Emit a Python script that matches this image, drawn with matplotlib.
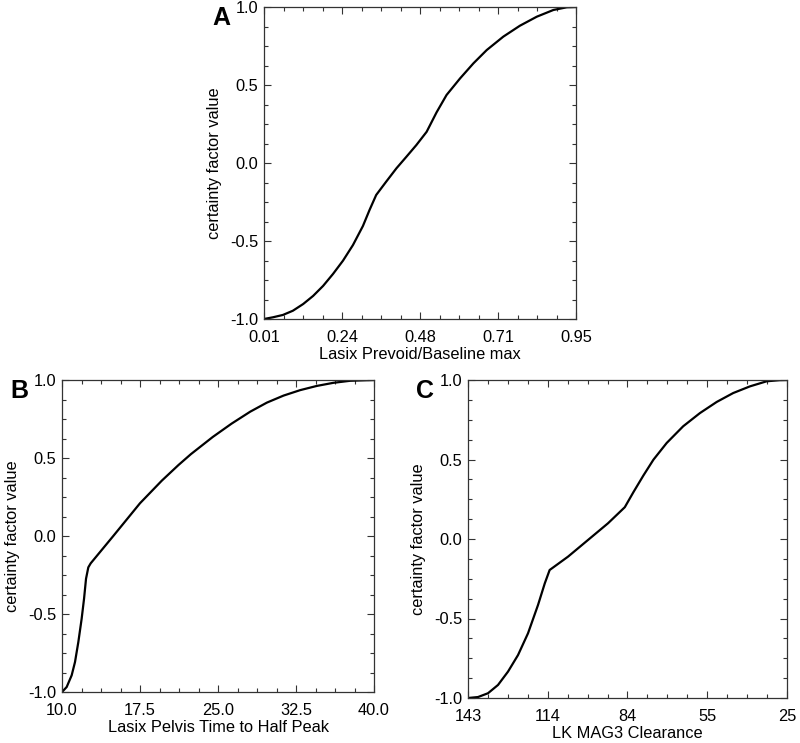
import numpy as np
import matplotlib
matplotlib.use('Agg')
from matplotlib import pyplot as plt
from matplotlib.ticker import AutoMinorLocator

plt.rcParams['font.family'] = ['Liberation Sans', 'DejaVu Sans']

# panel A: Lasix Prevoid/Baseline max
a_x = [0.01, 0.037, 0.067, 0.097, 0.128, 0.158, 0.188, 0.218, 0.248, 0.278, 0.308, 0.328,
       0.348, 0.378, 0.409, 0.439, 0.469, 0.50, 0.530, 0.560, 0.601, 0.641, 0.681, 0.731,
       0.781, 0.832, 0.882, 0.922, 0.95]
a_y = [-1.0, -0.989, -0.974, -0.947, -0.904, -0.852, -0.788, -0.711, -0.626, -0.526, -0.404, -0.301,
       -0.205, -0.120, -0.034, 0.040, 0.115, 0.200, 0.325, 0.436, 0.543, 0.639, 0.724, 0.810,
       0.880, 0.938, 0.981, 0.998, 1.0]
a_ticks = [0.01, 0.245, 0.48, 0.715, 0.95]
a_labels = ['0.01', '0.24', '0.48', '0.71', '0.95']

# panel B: Lasix Pelvis Time to Half Peak
b_x = [10.0, 10.45, 10.93, 11.25, 11.57, 11.89, 12.12, 12.31, 12.53, 12.76, 14.93, 17.5,
       19.6, 21.2, 22.4, 24.5, 26.3, 28.1, 29.7, 31.3, 32.9, 34.5, 36.1, 37.7, 40.0]
b_y = [-1.0, -0.968, -0.893, -0.808, -0.680, -0.530, -0.402, -0.274, -0.201, -0.175, 0.0, 0.21,
       0.355, 0.455, 0.525, 0.635, 0.72, 0.797, 0.855, 0.90, 0.935, 0.962, 0.982, 0.995, 1.0]
b_ticks = [10.0, 17.5, 25.0, 32.5, 40.0]
b_labels = ['10.0', '17.5', '25.0', '32.5', '40.0']

# panel C: LK MAG3 Clearance
c_x = [143, 139.3, 135.6, 131.9, 128.2, 124.5, 120.8, 117.1, 114.6, 112.8, 106.0, 98.6,
       91.2, 85.0, 81.8, 78.1, 74.4, 69.5, 63.4, 57.2, 51.0, 44.9, 38.7, 32.5, 27.6, 25]
c_y = [-1.0, -0.994, -0.970, -0.918, -0.834, -0.730, -0.593, -0.415, -0.279, -0.195, -0.111, -0.006,
       0.099, 0.200, 0.295, 0.400, 0.499, 0.604, 0.709, 0.792, 0.862, 0.918, 0.960, 0.992, 0.999, 1.0]
c_ticks = [143, 113.5, 84, 54.5, 25]
c_labels = ['143', '114', '84', '55', '25']

y_ticks = [-1.0, -0.5, 0.0, 0.5, 1.0]
y_labels = ['-1.0', '-0.5', '0.0', '0.5', '1.0']

W, H = 800, 743
fig = plt.figure(figsize=(8, 7.43), dpi=100)


def panel(px, letter, x, y, ticks, labels, xlabel, xlim):
    l, t, r, b = px
    ax = fig.add_axes([l / W, 1 - b / H, (r - l) / W, (b - t) / H])
    ax.plot(x, y, color='black', lw=1.6, solid_joinstyle='round')
    ax.set_xlim(*xlim)
    ax.set_ylim(-1.0, 1.0)
    ax.set_xticks(ticks)
    ax.set_xticklabels(labels)
    ax.set_yticks(y_ticks)
    ax.set_yticklabels(y_labels)
    ax.xaxis.set_minor_locator(AutoMinorLocator(4))
    ax.yaxis.set_minor_locator(AutoMinorLocator(4))
    ax.tick_params(which='both', direction='in', top=True, right=True, width=0.8,
                   color='#333333', labelsize=11.8)
    ax.tick_params(which='major', length=5)
    ax.tick_params(which='minor', length=3)
    ax.tick_params(axis='x', pad=8)
    ax.tick_params(axis='y', pad=4)
    for s in ax.spines.values():
        s.set_linewidth(0.9)
        s.set_color('#333333')
    ax.set_xlabel(xlabel, fontsize=11.8, labelpad=1.5)
    ax.set_ylabel('certainty factor value', fontsize=11.8, labelpad=6)
    fig.text((l - 43) / W, 1 - (t + 11) / H, letter, fontsize=18, fontweight='bold',
             ha='center', va='center')
    return ax


panel((264, 7, 576, 319), 'A', a_x, a_y, a_ticks, a_labels,
      'Lasix Prevoid/Baseline max', (0.01, 0.95))
panel((62, 380, 374, 692), 'B', b_x, b_y, b_ticks, b_labels,
      'Lasix Pelvis Time to Half Peak', (10.0, 40.0))
panel((468, 380, 787, 698), 'C', c_x, c_y, c_ticks, c_labels,
      'LK MAG3 Clearance', (143, 25))

plt.savefig('out.png', dpi=100)
